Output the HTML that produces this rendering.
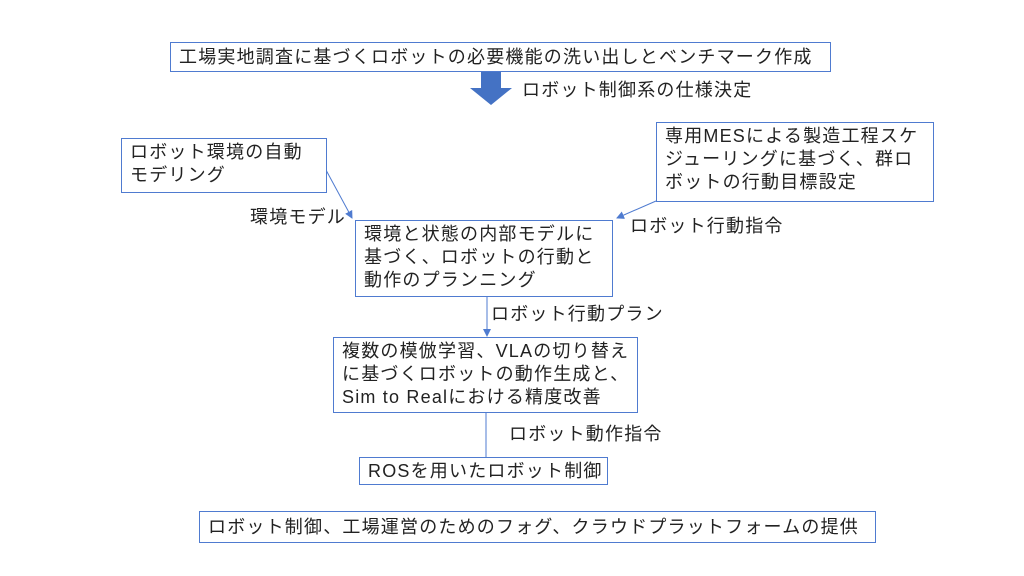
<!DOCTYPE html>
<html><head><meta charset="utf-8"><style>
body{margin:0;width:1024px;height:576px;background:#fff;position:relative;overflow:hidden;font-family:"Liberation Sans","Noto Sans CJK JP",sans-serif;color:#222;}
.b{position:absolute;border:1.5px solid #4f7bd0;box-sizing:border-box;background:#fff;font-size:18px;letter-spacing:1.2px;line-height:23px;padding:2px 8px;white-space:nowrap;}
.t{position:absolute;font-size:18px;letter-spacing:1.2px;white-space:nowrap;line-height:20px;}
svg{position:absolute;left:0;top:0;}
</style></head><body>
<svg width="1024" height="576">
<defs><marker id="a" markerWidth="8" markerHeight="8" refX="7" refY="4" orient="auto" markerUnits="userSpaceOnUse"><path d="M0,0L8,4L0,8z" fill="#4f7bd0"/></marker></defs>
<path d="M481,72H501V88H512L491,105L470,88H481z" fill="#4472c4"/>
<line x1="326" y1="170" x2="352" y2="218" stroke="#4f7bd0" stroke-width="1" marker-end="url(#a)"/>
<line x1="656" y1="201" x2="617" y2="218" stroke="#4f7bd0" stroke-width="1" marker-end="url(#a)"/>
<line x1="487" y1="296" x2="487" y2="336" stroke="#4f7bd0" stroke-width="1" marker-end="url(#a)"/>
<line x1="486" y1="412" x2="486" y2="458" stroke="#4f7bd0" stroke-width="1"/>
</svg>
<div class="b" style="left:170px;top:42px;width:661px;height:30px;line-height:24px;">工場実地調査に基づくロボットの必要機能の洗い出しとベンチマーク作成</div>
<div class="t" style="left:522px;top:80px;">ロボット制御系の仕様決定</div>
<div class="b" style="left:121px;top:138px;width:206px;height:55px;">ロボット環境の自動<br>モデリング</div>
<div class="b" style="left:656px;top:122px;width:278px;height:80px;">専用MESによる製造工程スケ<br>ジューリングに基づく、群ロ<br>ボットの行動目標設定</div>
<div class="t" style="left:250px;top:207px;">環境モデル</div>
<div class="t" style="left:630px;top:216px;">ロボット行動指令</div>
<div class="b" style="left:355px;top:220px;width:258px;height:77px;">環境と状態の内部モデルに<br>基づく、ロボットの行動と<br>動作のプランニング</div>
<div class="t" style="left:491px;top:304px;">ロボット行動プラン</div>
<div class="b" style="left:333px;top:337px;width:305px;height:76px;">複数の模倣学習、VLAの切り替え<br>に基づくロボットの動作生成と、<br>Sim to Realにおける精度改善</div>
<div class="t" style="left:509px;top:424px;">ロボット動作指令</div>
<div class="b" style="left:359px;top:457px;width:249px;height:28px;line-height:22px;">ROSを用いたロボット制御</div>
<div class="b" style="left:199px;top:511px;width:677px;height:32px;line-height:26px;">ロボット制御、工場運営のためのフォグ、クラウドプラットフォームの提供</div>
</body></html>
